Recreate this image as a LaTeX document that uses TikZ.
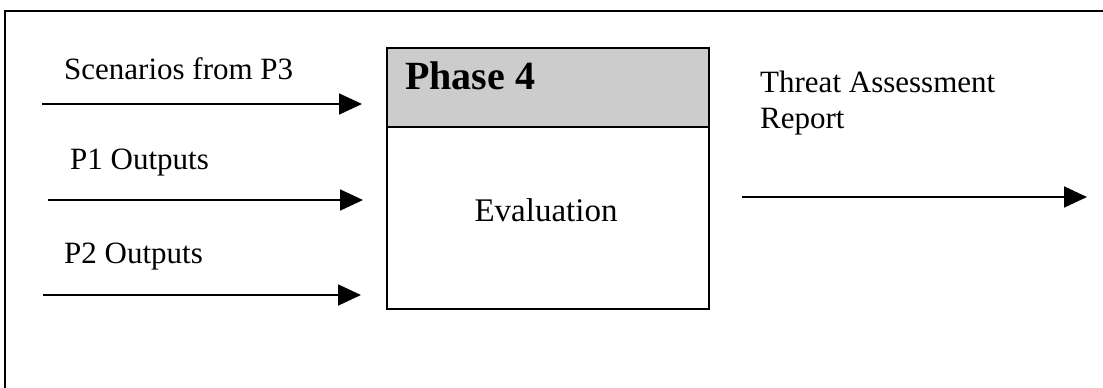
\documentclass[tikz,border=0pt]{standalone}
\usepackage{fontspec}
\setmainfont{Liberation Serif}
\usepackage{tikz}
\usetikzlibrary{arrows.meta}
\definecolor{headgray}{RGB}{204,204,204}
\tikzset{
  lbl/.style = {inner sep=0pt, anchor=base west,
    font=\fontsize{31}{36}\selectfont},% input and output labels
  phasebox/.style = {rectangle, draw=black, fill=headgray, line width=1.8pt,
    minimum width=322pt, minimum height=79pt, inner sep=0pt},% grey header
  bodybox/.style = {rectangle, draw=black, fill=white, line width=1.8pt,
    minimum width=322pt, minimum height=182pt, inner sep=0pt},% white body
  flow/.style = {-{Triangle[length=23pt,width=21pt]}, line width=1.8pt},
}

\begin{document}
\begin{tikzpicture}[x=1pt,y=-1pt]
  \useasboundingbox (0,0) rectangle (1103,388);

  % outer frame (only top and left sides show)
  \draw[line width=2.2pt] (1103,11) -- (5,11) -- (5,388);

  \node[phasebox] (phase) at (548,87.5) {};
  \node[bodybox] (body) at (548,218) {};
  \node[inner sep=0pt, anchor=base west, font=\fontsize{40}{44}\selectfont\bfseries]
    (title) at (405,89) {Phase 4};
  \node[inner sep=0pt, anchor=base, font=\fontsize{33}{38}\selectfont]
    (eval) at (546,221) {Evaluation};

  % inputs
  \node[lbl] (l1) at (64,79) {Scenarios from P3};
  \node[lbl] (l2) at (70,169) {P1 Outputs};
  \node[lbl] (l3) at (64,263) {P2 Outputs};
  \coordinate (s1) at (42,104);  \coordinate (e1) at (362,104);
  \coordinate (s2) at (48,200);  \coordinate (e2) at (363,200);
  \coordinate (s3) at (43,295);  \coordinate (e3) at (361,295);
  \draw[flow] (s1) -- (e1);
  \draw[flow] (s2) -- (e2);
  \draw[flow] (s3) -- (e3);

  % output
  \node[lbl, align=left] (out) at (760,128) {Threat Assessment\\Report};
  \coordinate (s4) at (742,197); \coordinate (e4) at (1087,197);
  \draw[flow] (s4) -- (e4);
\end{tikzpicture}
\end{document}
